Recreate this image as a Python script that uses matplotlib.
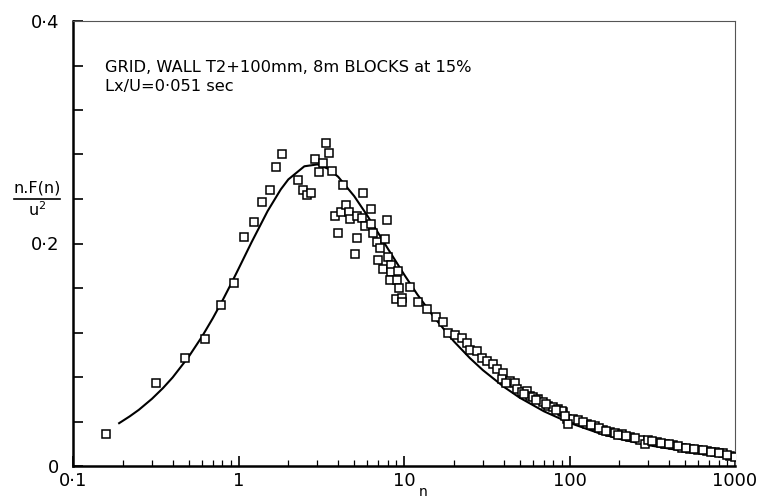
import matplotlib.pyplot as plt
from matplotlib.lines import Line2D
from matplotlib.ticker import FixedLocator, LogLocator, NullFormatter

# measured spectrum points: frequency n (Hz) and n.F(n)/u^2
meas_n = [0.158, 0.317, 0.475, 0.630, 0.780, 0.943, 1.08, 1.24, 1.39, 1.54,
          1.69, 1.83, 2.30, 2.46, 2.58, 2.75, 2.90, 3.06, 3.23, 3.36,
          3.52, 3.66, 4.30, 3.83, 3.97, 4.15, 4.46, 4.65, 4.72, 5.06,
          5.18, 5.18, 5.55, 5.68, 6.29, 5.81, 6.29, 6.47, 6.84, 7.68,
          7.86, 7.16, 6.99, 8.04, 7.43, 8.35, 8.35, 9.24, 8.23, 9.04,
          9.33, 10.9, 8.95, 9.77, 9.77, 12.2, 13.8, 15.6, 17.3, 18.5,
          20.3, 22.3, 23.9, 25.1, 27.5, 29.5, 31.6, 34.6, 36.3, 39.8,
          38.9, 43.7, 46.9, 48.0, 51.4, 55.1, 57.7, 60.4, 64.8, 69.5,
          74.5, 79.8, 85.6, 91.7, 96.2, 105, 98.3, 89.7, 113, 127,
          143, 159, 176, 188, 207, 232, 267, 286, 299, 336,
          378, 424, 476, 535, 600, 675, 757, 850, 933, 995,
          41.5, 53.0, 62.5, 72.0, 82.5, 94.0, 120, 135, 151, 167,
          197, 219, 250, 316, 356, 400, 450, 505, 565, 637,
          715, 800, 890]
meas_f = [0.0284, 0.0749, 0.0971, 0.1140, 0.1446, 0.1642, 0.2056, 0.2189, 0.2373, 0.2477,
          0.2684, 0.2800, 0.2575, 0.2483, 0.2438, 0.2453, 0.2756, 0.2646, 0.2720, 0.2907,
          0.2812, 0.2652, 0.2522, 0.2249, 0.2098, 0.2287, 0.2349, 0.2282, 0.2216, 0.1905,
          0.2047, 0.2246, 0.2231, 0.2453, 0.2314, 0.2157, 0.2172, 0.2098, 0.2009, 0.2038,
          0.2211, 0.1964, 0.1855, 0.1876, 0.1772, 0.1807, 0.1742, 0.1757, 0.1674, 0.1674,
          0.1603, 0.1609, 0.1500, 0.1511, 0.1476, 0.1476, 0.1411, 0.1336, 0.1298, 0.1194,
          0.1180, 0.1149, 0.1105, 0.1046, 0.1031, 0.0972, 0.0942, 0.0913, 0.0868, 0.0838,
          0.0780, 0.0764, 0.0749, 0.0691, 0.0661, 0.0676, 0.0631, 0.0616, 0.0602, 0.0572,
          0.0542, 0.0527, 0.0513, 0.0483, 0.0424, 0.0424, 0.0380, 0.0498, 0.0415, 0.0380,
          0.0356, 0.0326, 0.0305, 0.0296, 0.0291, 0.0260, 0.0237, 0.0202, 0.0237, 0.0216,
          0.0202, 0.0187, 0.0166, 0.0157, 0.0148, 0.0136, 0.0127, 0.0113, 0.0089, 0.0083,
          0.0745, 0.0650, 0.0590, 0.0555, 0.0500, 0.0450, 0.0395, 0.0370, 0.0340, 0.0315,
          0.0280, 0.0270, 0.0250, 0.0225, 0.0210, 0.0195, 0.0180, 0.0162, 0.0152, 0.0143,
          0.0130, 0.0118, 0.0100]

# fitted spectrum curve
fit_n = [0.19, 0.22, 0.25, 0.3, 0.35, 0.4, 0.5, 0.6, 0.7, 0.8,
         0.9, 1.0, 1.2, 1.5, 1.8, 2.0, 2.5, 3.0, 3.5, 4.0,
         5.0, 6.0, 7.0, 8.0, 10, 12, 15, 20, 25, 30,
         40, 50, 70, 100, 150, 200, 300, 500, 700, 1000]
fit_f = [0.0385, 0.0446, 0.0505, 0.0604, 0.0701, 0.0796, 0.0982, 0.1160, 0.1329, 0.1487,
         0.1635, 0.1772, 0.2012, 0.2292, 0.2486, 0.2576, 0.2694, 0.2711, 0.2670, 0.2600,
         0.2426, 0.2251, 0.2092, 0.1952, 0.1723, 0.1545, 0.1347, 0.1121, 0.0970, 0.0861,
         0.0713, 0.0614, 0.0492, 0.0388, 0.0296, 0.0244, 0.0187, 0.0133, 0.0106, 0.0084]

x_ticks = [0.1, 1, 10, 100, 1000]
x_labels = ["0\u00b71", "1", "10", "100", "1000"]
y_labels = {0.0: "0", 0.2: "0\u00b72", 0.4: "0\u00b74"}


def main():
    fig = plt.figure(figsize=(7.62, 5.0), dpi=100)
    ax = fig.add_axes([73 / 762, 34 / 500, 662 / 762, 445 / 500])

    ax.plot(fit_n, fit_f, color="black", lw=1.5, zorder=2)
    ax.plot(meas_n, meas_f, ls="none", marker="s", ms=6.3, mfc="white",
            mec="black", mew=1.1, zorder=3)

    ax.set_xscale("log")
    ax.set_xlim(0.1, 1000)
    ax.set_ylim(0, 0.4)

    ax.xaxis.set_major_locator(FixedLocator(x_ticks))
    ax.set_xticklabels(x_labels)
    ax.xaxis.set_minor_locator(LogLocator(base=10, subs=range(2, 10)))
    ax.xaxis.set_minor_formatter(NullFormatter())

    yt = [i * 0.04 for i in range(11)]
    ax.set_yticks(yt)
    ax.set_yticklabels([y_labels.get(round(v, 2), "") for v in yt])

    ax.tick_params(axis="both", which="major", direction="in", length=7,
                   width=1.2, labelsize=13, colors="black")
    ax.tick_params(axis="x", which="minor", direction="in", length=4, width=0.9)
    ax.tick_params(axis="x", pad=4)
    ax.tick_params(axis="y", pad=10)

    ax.spines["left"].set_linewidth(1.8)
    ax.spines["bottom"].set_linewidth(1.8)
    ax.spines["top"].set_linewidth(0.8)
    ax.spines["top"].set_color("#555555")
    ax.spines["right"].set_linewidth(0.8)
    ax.spines["right"].set_color("#555555")
    ax.spines["right"].set_linestyle((0, (4, 1)))

    ax.text(0.048, 0.895, "GRID, WALL T2+100mm, 8m BLOCKS at 15%",
            transform=ax.transAxes, fontsize=11.7, va="center")
    ax.text(0.048, 0.852, "Lx/U=0\u00b7051 sec",
            transform=ax.transAxes, fontsize=11.7, va="center")

    # y-axis label written as a fraction
    fig.text(37 / 762, 1 - 188 / 500, "n.F(n)", fontsize=11.5,
             ha="center", va="center")
    fig.add_artist(Line2D([14 / 762, 60 / 762], [1 - 199 / 500, 1 - 199 / 500],
                          color="black", lw=1.2, transform=fig.transFigure))
    fig.text(37 / 762, 1 - 210 / 500, "u$^2$", fontsize=11.5,
             ha="center", va="center")

    fig.text(423 / 762, 1 - 485 / 500, "n", fontsize=10, ha="center", va="top")

    fig.savefig("out.png", dpi=100)


if __name__ == "__main__":
    main()
